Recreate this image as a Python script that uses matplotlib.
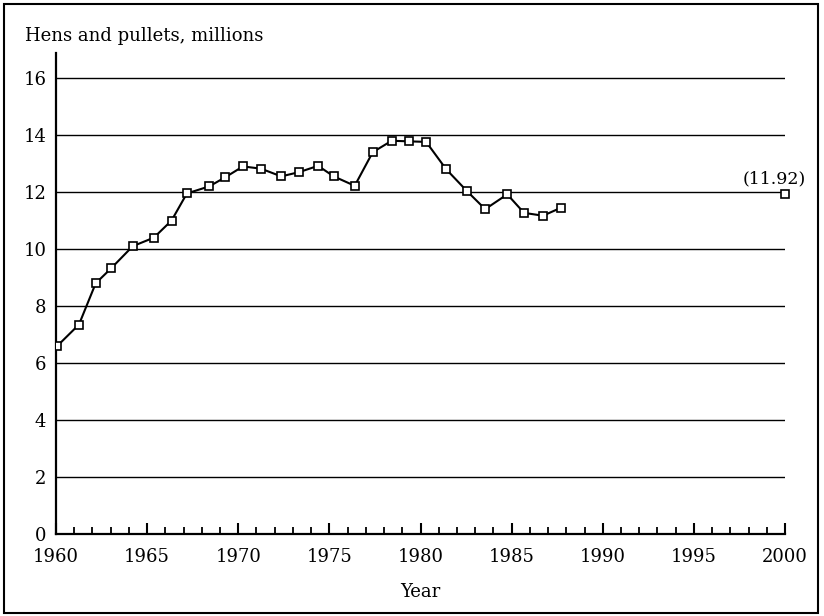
import numpy as np
from matplotlib import pyplot as plt
from matplotlib.patches import Rectangle

# values (points sit a bit off the whole years)
years = [1960.07, 1961.26, 1962.18, 1963.02, 1964.21, 1965.37, 1966.34,
         1967.18, 1968.41, 1969.29, 1970.26, 1971.25, 1972.36, 1973.34,
         1974.38, 1975.24, 1976.39, 1977.38, 1978.42, 1979.36, 1980.31,
         1981.41, 1982.57, 1983.55, 1984.76, 1985.68, 1986.72, 1987.71]
hens = [6.6, 7.35, 8.8, 9.32, 10.1, 10.4, 11.0,
        11.95, 12.2, 12.52, 12.9, 12.82, 12.55, 12.7,
        12.92, 12.55, 12.22, 13.4, 13.8, 13.78, 13.76,
        12.8, 12.02, 11.4, 11.92, 11.27, 11.17, 11.45]
proj_year = [2000]
proj_val = [11.92]
proj_label = '(11.92)'

plt.rcParams['font.family'] = ['DejaVu Serif']
fig = plt.figure(figsize=(8.24, 6.16), dpi=100)
ax = fig.add_axes([56/824, 1 - 534/616, (785 - 56)/824, (534 - 53)/616])

ax.set_xlim(1960, 2000)
ax.set_ylim(0, 16.88)

for v in range(2, 17, 2):
    ax.axhline(v, color='black', lw=1.0, zorder=1)

mk = dict(marker='s', markersize=6, markerfacecolor='white',
          markeredgecolor='black', markeredgewidth=1.2)
ax.plot(years, hens, color='black', lw=1.5, zorder=3, **mk)
ax.plot(proj_year, proj_val, linestyle='none', zorder=3, clip_on=False, **mk)
ax.annotate(proj_label, (proj_year[0], proj_val[0]), xytext=(-8, 5),
            textcoords='offset points', ha='center', va='bottom', fontsize=12.5)

ax.spines['top'].set_visible(False)
ax.spines['right'].set_visible(False)
for s in ('left', 'bottom'):
    ax.spines[s].set_linewidth(1.6)

ax.set_xticks(np.arange(1960, 2001, 5))
ax.set_xticks(np.arange(1960, 2001, 1), minor=True)
ax.set_yticks(np.arange(0, 17, 2))
ax.tick_params(axis='x', which='major', direction='in', length=8, width=1.5,
               labelsize=13, pad=10)
ax.tick_params(axis='x', which='minor', direction='in', length=5, width=1.3)
ax.tick_params(axis='y', length=0, labelsize=13, pad=7)

ax.set_xlabel('Year', fontsize=13, labelpad=12)
fig.text(25/824, 1 - 36/616, 'Hens and pullets, millions', fontsize=13,
         ha='left', va='center')

fig.patches.append(Rectangle((4/824, 3/616), 814/824, 609/616, fill=False,
                             lw=1.5, ec='black', transform=fig.transFigure))

fig.savefig('out.png', dpi=100)
